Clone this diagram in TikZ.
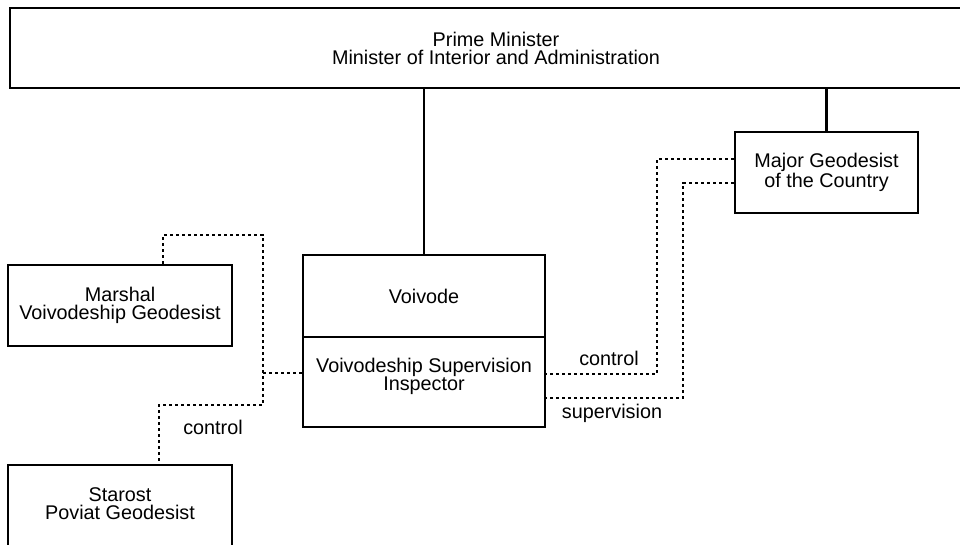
\documentclass[tikz,border=0pt]{standalone}
\usepackage{fontspec}
\setmainfont{Liberation Sans}
\begin{document}
\begin{tikzpicture}[x=1pt,y=-1pt,
  box/.style={draw, line width=2.2pt, inner sep=0pt, anchor=center},
  txt/.style={font=\fontsize{19.8}{18}\selectfont, align=center, inner sep=0pt},
  solidline/.style={line width=2.2pt},
  dotline/.style={line width=2.9pt, dash pattern=on 3pt off 3pt}
]
\useasboundingbox (0,0) rectangle (960,545);
\clip (0,0) rectangle (960,545);
\fill[white] (0,0) rectangle (960,545);

% boxes
\node[box, minimum width=980pt, minimum height=80pt] (pm) at (500,48) {};
\node[txt] (pmtxt) at (496,48) {Prime Minister\\Minister of Interior and Administration};

\node[box, txt, minimum width=183pt, minimum height=81pt, draw, line width=2.2pt] (mg) at (826.5,172.5) {Major Geodesist\\of the Country};

\node[box, txt, minimum width=242pt, minimum height=82pt, draw, line width=2.2pt] (vo) at (424,296) {Voivode};
\node[box, minimum width=242pt, minimum height=90pt] (insp) at (424,382) {};
\node[txt] (insptxt) at (424,376) {Voivodeship Supervision\\Inspector};

\node[box, txt, minimum width=224pt, minimum height=81pt, draw, line width=2.2pt] (ma) at (120,305.5) {Marshal\\Voivodeship Geodesist};

\node[box, minimum width=224pt, minimum height=100pt] (st) at (120,515) {};
\node[txt] (sttxt) at (120,504) {Starost\\Poviat Geodesist};

% solid connectors
\draw[solidline] (pm.south -| vo.north) -- (vo.north);
\draw[solidline] (pm.south -| mg.north) -- (mg.north);

% dotted connectors right
\coordinate (k1a) at (657,159);
\coordinate (k1b) at (657,374);
\coordinate (k2a) at (683,183);
\coordinate (k2b) at (683,398);
\draw[dotline] (mg.west |- k1a) -- (k1a) -- (k1b) -- (insp.east |- k1b);
\draw[dotline] (mg.west |- k2a) -- (k2a) -- (k2b) -- (insp.east |- k2b);

% dotted connectors left
\coordinate (l1) at (163,235);
\coordinate (l2) at (263,235);
\coordinate (l3) at (263,405);
\coordinate (l4) at (159,405);
\coordinate (l5) at (263,373);
\draw[dotline] (ma.north -| l1) -- (l1) -- (l2) -- (l3) -- (l4) -- (st.north -| l4);
\draw[dotline] (l5) -- (insp.west |- l5);

% labels
\node[txt] (lab1) at (609,358) {control};
\node[txt] (lab2) at (612,413) {supervision};
\node[txt] (lab3) at (213,427) {control};
\end{tikzpicture}
\end{document}
